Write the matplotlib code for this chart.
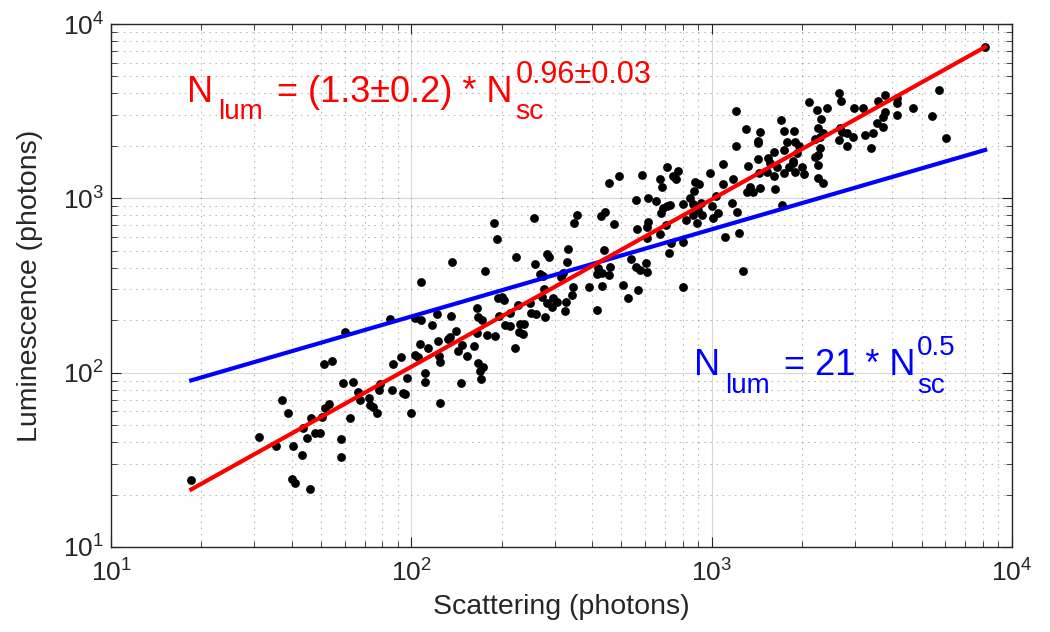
import numpy as np
import matplotlib
matplotlib.use("Agg")
import matplotlib.pyplot as plt
from matplotlib.ticker import LogLocator, NullFormatter

# scattered photons vs luminescence photons
scattering = [
    60.1, 51.2, 54.5, 59.3, 37.1, 38.8, 53.2, 51.6, 50.4, 46.3,
    43.6, 62.5, 31.1, 35.4, 40.4, 45.0, 47.8, 49.6, 43.2, 58.3,
    58.3, 18.5, 40.1, 41.0, 46.0, 189, 193, 137, 176, 108,
    84.9, 103, 108, 122, 136, 117, 166, 167, 172, 194,
    141, 135, 132, 123, 107, 114, 179, 190, 166, 148,
    143, 153, 162, 103, 105, 92.4, 86.9, 124, 125, 167,
    173, 169, 171, 96.7, 111, 111, 64.0, 146, 66.5, 67.5,
    72.3, 72.9, 74.6, 76.9, 78.7, 78.1, 86.2, 93.8, 95.3, 125,
    99.8, 455, 492, 587, 560, 614, 256, 356, 348, 428,
    442, 473, 564, 610, 614, 332, 330, 438, 223, 283,
    287, 258, 268, 275, 315, 320, 418, 432, 459, 455,
    415, 539, 560, 578, 605, 507, 527, 569, 391, 432,
    346, 343, 277, 272, 297, 283, 306, 294, 327, 325,
    200, 204, 227, 248, 279, 250, 260, 415, 196, 213,
    205, 213, 230, 237, 228, 236, 221, 1206, 1302, 1450,
    1427, 1427, 1702, 1742, 1881, 1783, 1896, 1206, 1614, 1742,
    1541, 1427, 1091, 1322, 710, 773, 744, 761, 673, 684,
    988, 880, 908, 874, 1091, 1178, 1438, 1529, 1614, 1742,
    1896, 1867, 1651, 1565, 1343, 1450, 1312, 1374, 1626, 653,
    848, 803, 867, 922, 901, 1034, 1003, 710, 727, 689,
    679, 1169, 1215, 1050, 1011, 929, 867, 822, 894, 705,
    673, 610, 733, 803, 1108, 1234, 721, 610, 1273, 803,
    1716, 5717, 2656, 2697, 2110, 2244, 2423, 2980, 3193, 3779,
    3582, 4143, 4143, 4686, 3779, 3722, 3555, 3722, 4143, 5418,
    6034, 2314, 2262, 2350, 2677, 2718, 2824, 2958, 3243, 3448,
    2210, 2296, 1954, 2656, 2824, 2296, 2210, 2262, 3395, 1925,
    1867, 1810, 2000, 2031, 2262, 2262, 2350, 8139,
]
luminescence = [
    171, 112, 117, 87.1, 69.6, 58.6, 66.1, 62.7, 55.6, 54.9,
    48.1, 54.9, 42.7, 37.9, 37.9, 42.2, 45.0, 45.0, 33.7, 41.6,
    32.8, 24.2, 24.5, 23.3, 21.5, 721, 584, 431, 383, 331,
    203, 206, 200, 217, 211, 188, 235, 208, 200, 268,
    173, 160, 156, 152, 146, 138, 164, 162, 169, 144,
    133, 125, 142, 126, 123, 123, 112, 125, 115, 114,
    108, 102, 91.9, 93.1, 99.5, 88.3, 88.3, 87.1, 77.4, 69.6,
    71.5, 65.2, 63.5, 58.6, 86.1, 79.5, 79.5, 76.4, 75.4, 66.9,
    58.6, 1224, 1343, 1361, 978, 1004, 771, 802, 721, 792,
    834, 712, 667, 685, 731, 512, 431, 505, 460, 479,
    460, 420, 368, 358, 354, 373, 398, 373, 404, 363,
    368, 449, 404, 388, 425, 318, 268, 298, 310, 314,
    310, 279, 302, 272, 268, 251, 254, 238, 254, 226,
    272, 261, 244, 251, 208, 220, 217, 229, 211, 220,
    188, 185, 190, 190, 171, 167, 138, 3169, 2498, 2401,
    2132, 2076, 2813, 2432, 2432, 2104, 2104, 1996, 1844, 1893,
    1703, 1681, 1573, 1532, 1512, 1435, 1343, 1291, 1291, 1161,
    1398, 1241, 1208, 1101, 1208, 1291, 1398, 1416, 1343, 1398,
    1416, 1594, 1512, 1594, 1161, 1146, 1087, 1087, 1131, 965,
    1004, 928, 928, 940, 857, 1031, 903, 903, 915, 880,
    824, 940, 834, 824, 771, 802, 802, 751, 721, 703,
    624, 592, 554, 562, 600, 632, 486, 378, 383, 310,
    915, 4182, 4019, 3616, 3568, 3211, 3297, 3297, 3297, 3915,
    3616, 3763, 3523, 3297, 3127, 2928, 2704, 2566, 3006, 2967,
    2218, 2851, 2532, 2370, 2532, 2401, 2370, 2247, 2308, 2370,
    2189, 2247, 1996, 2160, 1996, 1944, 1726, 1773, 1944, 1820,
    1637, 1512, 1512, 1379, 1553, 1308, 1224, 7379,
]

# power-law fits  N_lum = a * N_sc^b
fit_amp, fit_exp = 1.3, 0.96
sqrt_amp, sqrt_exp = 21, 0.5

plt.rcParams['font.family'] = ['Liberation Sans', 'DejaVu Sans']
plt.rcParams['mathtext.fontset'] = 'custom'
plt.rcParams['mathtext.rm'] = 'Liberation Sans'
plt.rcParams['mathtext.it'] = 'Liberation Sans'

W, H = 1050, 632
fig = plt.figure(figsize=(W / 100, H / 100), dpi=100)
ax = fig.add_axes([111 / W, 1 - 547 / H, 901 / W, 523 / H])

x = np.array(scattering, dtype=float)
y = np.array(luminescence, dtype=float)
xs = np.linspace(x.min(), x.max(), 200)

ax.scatter(x, y, s=40, color='black', zorder=3, linewidths=0)
ax.plot(xs, sqrt_amp * xs ** sqrt_exp, color='#0000ff', lw=3, zorder=4)
ax.plot(xs, fit_amp * xs ** fit_exp, color='#ff0000', lw=3, zorder=5)

ax.set_xscale('log')
ax.set_yscale('log')
ax.set_xlim(10, 1e4)
ax.set_ylim(10, 1e4)
ax.xaxis.set_major_locator(LogLocator(base=10, numticks=10))
ax.yaxis.set_major_locator(LogLocator(base=10, numticks=10))
ax.xaxis.set_minor_locator(LogLocator(base=10, subs=np.arange(2, 10), numticks=20))
ax.yaxis.set_minor_locator(LogLocator(base=10, subs=np.arange(2, 10), numticks=20))
ax.xaxis.set_minor_formatter(NullFormatter())
ax.yaxis.set_minor_formatter(NullFormatter())

dark = (0.15, 0.15, 0.15)
ax.grid(True, which='major', color=dark, alpha=0.18, lw=0.8, ls='-')
ax.grid(True, which='minor', color=dark, alpha=0.3, lw=0.8, ls=(0, (1.5, 4)))
ax.set_axisbelow(True)
for sp in ax.spines.values():
    sp.set_color(dark)
    sp.set_linewidth(1.0)
ax.tick_params(which='both', direction='in', top=True, right=True, colors=dark,
               labelsize=19)
ax.tick_params(which='major', length=7)
ax.tick_params(which='minor', length=4)
ax.tick_params(axis='x', which='major', pad=9)
ax.tick_params(axis='y', which='major', pad=5)

ax.set_xlabel('Scattering (photons)', fontsize=20.5, color=dark, labelpad=5)
ax.set_ylabel('Luminescence (photons)', fontsize=20.5, color=dark, labelpad=14)


def tex_text(x_px, base_px, parts, color):
    """Lay out text pieces left to right, MATLAB-tex style sub/superscripts."""
    r = fig.canvas.get_renderer()
    cx = x_px
    for part in parts:
        group = part if isinstance(part, list) else [part]
        right = cx
        for s, size, shift, gap in group:
            t = fig.text((cx + gap) / W, (H - base_px + shift) / H, s,
                         fontsize=size, color=color, va='baseline', ha='left')
            right = max(right, t.get_window_extent(r).x1)
        cx = right


red_eq = [('N', 26, 0, 0), ('lum', 20, -17, 5),
          ('= (1.3\u00b10.2) * N', 26, 0, 14),
          [('0.96\u00b10.03', 22, 19, 3), ('sc', 20.5, -17, 3)]]
blue_eq = [('N', 26, 0, 0), ('lum', 20, -18, 5),
           ('= 21 * N', 26, 0, 14),
           [('0.5', 20, 20, 2), ('sc', 20, -18, 2)]]
tex_text(187, 102, red_eq, '#ff0000')
tex_text(694, 375, blue_eq, '#0000ff')

fig.savefig('out.png', dpi=100)
